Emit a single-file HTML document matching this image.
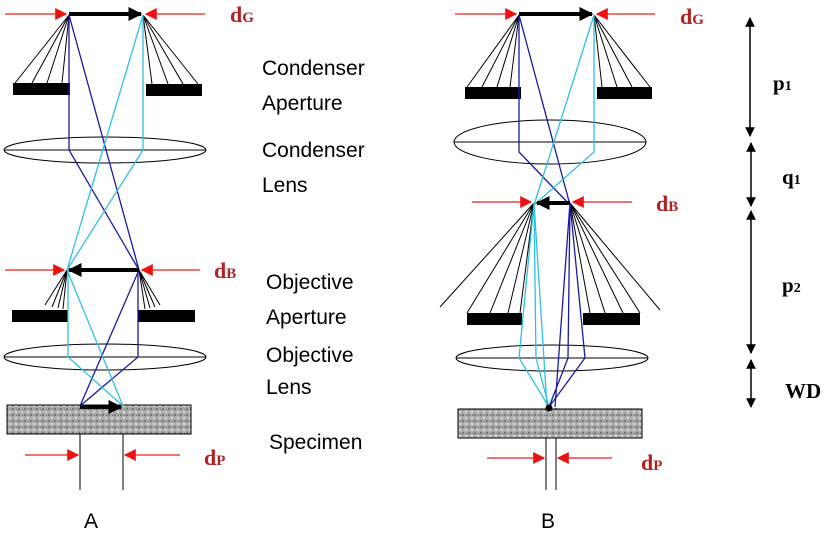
<!DOCTYPE html>
<html><head><meta charset="utf-8"><style>
body{margin:0;background:#fff}
svg{display:block}
.s{font-family:"Liberation Sans",sans-serif;font-size:21px;fill:#000}
.r{font-family:"Liberation Serif",serif;font-weight:bold;fill:#b22222;font-size:22px}
.k{font-family:"Liberation Serif",serif;font-weight:bold;fill:#000;font-size:21px}
</style></head><body>
<svg width="835" height="541" viewBox="0 0 835 541" xmlns="http://www.w3.org/2000/svg">
<defs>
<marker id="ra" viewBox="0 0 10 10" refX="9" refY="5" markerWidth="8" markerHeight="8" orient="auto"><path d="M0,0L10,5L0,10z" fill="#ee1111"/></marker>
<marker id="ka" viewBox="0 0 10 10" refX="9" refY="5" markerWidth="3.5" markerHeight="3.5" orient="auto"><path d="M0,0L10,5L0,10z" fill="#000"/></marker>
<marker id="sa" viewBox="0 0 10 10" refX="9" refY="5" markerWidth="6.5" markerHeight="6.5" orient="auto"><path d="M0,0L10,5L0,10z" fill="#000"/></marker>
<pattern id="tex" width="6" height="6" patternUnits="userSpaceOnUse"><rect width="6" height="6" fill="#aaa"/><rect x="0" y="0" width="2" height="2" fill="#777"/><rect x="3" y="3" width="2" height="2" fill="#ddd"/><rect x="4" y="1" width="1" height="1" fill="#666"/></pattern>
</defs>
<g stroke="#000" stroke-width="1" fill="none">
<path d="M69,15L15,83M69,15L32,83M69,15L47,83M69,15L62,83M143,15L152,84M143,15L168,84M143,15L183,84M143,15L198,84"/>
<path d="M67,270L45,305M67,270L52,307M67,270L58,308M67,270L63,309M139,270L145,309M139,270L150,308M139,270L155,307M139,270L160,305"/>
<ellipse cx="105" cy="150" rx="101" ry="13"/><line x1="4" y1="150" x2="206" y2="150"/>
<ellipse cx="105" cy="357" rx="101" ry="13"/><line x1="4" y1="357" x2="206" y2="357"/>
<line x1="80" y1="406" x2="80" y2="490"/><line x1="123" y1="406" x2="123" y2="490"/>
<path d="M519,15L467,87M519,15L482,87M519,15L497,87M519,15L510,87M594,15L602,87M594,15L617,87M594,15L632,87M594,15L650,87"/>
<path d="M534,203L440,307M534,203L467,313M534,203L490,313M534,203L508,313M534,203L520,313M570,203L660,310M570,203L640,313M570,203L623,313M570,203L605,313M570,203L590,313"/>
<ellipse cx="550" cy="142" rx="96" ry="22"/><line x1="454" y1="142" x2="646" y2="142"/>
<ellipse cx="552" cy="358" rx="96" ry="13"/><line x1="456" y1="358" x2="648" y2="358"/>
<line x1="546" y1="408" x2="546" y2="490"/><line x1="556" y1="408" x2="556" y2="490"/>
</g>
<g fill="#000">
<rect x="13" y="83" width="57" height="12"/><rect x="146" y="84" width="56" height="12"/>
<rect x="12" y="310" width="56" height="12"/><rect x="138" y="310" width="57" height="12"/>
<rect x="465" y="87" width="56" height="12"/><rect x="597" y="87" width="55" height="12"/>
<rect x="467" y="313" width="55" height="12"/><rect x="583" y="313" width="57" height="12"/>
</g>
<rect x="7" y="405" width="184" height="29" fill="url(#tex)" stroke="#000"/>
<rect x="458" y="409" width="184" height="29" fill="url(#tex)" stroke="#000"/>
<g fill="none" stroke-width="1.3">
<path d="M69,15L69,150L139,270M69,15L139,270M138,270L138,357L80,406M139,270L80,406" stroke="#1a1aa0"/>
<path d="M143,15L143,150L67,270M143,15L67,270M68,270L68,357L123,406M67,270L123,406" stroke="#30c0e0"/>
<path d="M519,15L519,152L570,205M519,15L570,205M570,203L585,358L549,407M570,203L568,358L549,407M570,203L555,407" stroke="#1a1aa0"/>
<path d="M594,15L594,152L534,205M594,15L534,205M534,203L519,358L549,407M534,203L536,358L549,407M534,203L547,407" stroke="#30c0e0"/>
</g>
<circle cx="549" cy="408" r="3.5" fill="#000"/>
<g stroke="#000" stroke-width="4">
<line x1="69" y1="14" x2="141" y2="14" marker-end="url(#ka)"/>
<line x1="139" y1="270" x2="69" y2="270" marker-end="url(#ka)"/>
<line x1="80" y1="407" x2="121" y2="407" marker-end="url(#ka)"/>
<line x1="519" y1="14" x2="592" y2="14" marker-end="url(#ka)"/>
<line x1="570" y1="203" x2="537" y2="203" marker-end="url(#ka)"/>
</g>
<g stroke="#ee4444" stroke-width="1.5">
<line x1="5" y1="14" x2="66" y2="14" marker-end="url(#ra)"/>
<line x1="205" y1="14" x2="146" y2="14" marker-end="url(#ra)"/>
<line x1="5" y1="270" x2="64" y2="270" marker-end="url(#ra)"/>
<line x1="200" y1="270" x2="142" y2="270" marker-end="url(#ra)"/>
<line x1="25" y1="455" x2="78" y2="455" marker-end="url(#ra)"/>
<line x1="180" y1="455" x2="125" y2="455" marker-end="url(#ra)"/>
<line x1="455" y1="14" x2="516" y2="14" marker-end="url(#ra)"/>
<line x1="655" y1="14" x2="597" y2="14" marker-end="url(#ra)"/>
<line x1="472" y1="202" x2="531" y2="202" marker-end="url(#ra)"/>
<line x1="632" y1="202" x2="573" y2="202" marker-end="url(#ra)"/>
<line x1="487" y1="458" x2="544" y2="458" marker-end="url(#ra)"/>
<line x1="612" y1="458" x2="558" y2="458" marker-end="url(#ra)"/>
</g>
<g stroke="#000" stroke-width="1.5">
<line x1="750" y1="70" x2="750" y2="18" marker-end="url(#sa)"/><line x1="750" y1="70" x2="750" y2="136" marker-end="url(#sa)"/>
<line x1="751" y1="175" x2="751" y2="143" marker-end="url(#sa)"/><line x1="751" y1="175" x2="751" y2="206" marker-end="url(#sa)"/>
<line x1="751" y1="280" x2="751" y2="211" marker-end="url(#sa)"/><line x1="751" y1="280" x2="751" y2="353" marker-end="url(#sa)"/>
<line x1="751" y1="383" x2="751" y2="360" marker-end="url(#sa)"/><line x1="751" y1="383" x2="751" y2="407" marker-end="url(#sa)"/>
</g>
<text class="k" x="773" y="90">p<tspan font-size="14">1</tspan></text>
<text class="k" x="782" y="184">q<tspan font-size="14">1</tspan></text>
<text class="k" x="782" y="292">p<tspan font-size="14">2</tspan></text>
<text class="k" x="785" y="398">WD</text>
<text class="r" x="230" y="22">d<tspan font-size="15">G</tspan></text>
<text class="r" x="680" y="24">d<tspan font-size="15">G</tspan></text>
<text class="r" x="214" y="278">d<tspan font-size="15">B</tspan></text>
<text class="r" x="656" y="211">d<tspan font-size="15">B</tspan></text>
<text class="r" x="204" y="465">d<tspan font-size="15">P</tspan></text>
<text class="r" x="641" y="470">d<tspan font-size="15">P</tspan></text>
<text class="s" x="262" y="75">Condenser</text>
<text class="s" x="262" y="110">Aperture</text>
<text class="s" x="262" y="157">Condenser</text>
<text class="s" x="262" y="192">Lens</text>
<text class="s" x="266" y="289">Objective</text>
<text class="s" x="266" y="324">Aperture</text>
<text class="s" x="266" y="362">Objective</text>
<text class="s" x="266" y="394">Lens</text>
<text class="s" x="269" y="449">Specimen</text>
<text class="s" x="84" y="528">A</text>
<text class="s" x="541" y="528">B</text>
</svg>
</body></html>
